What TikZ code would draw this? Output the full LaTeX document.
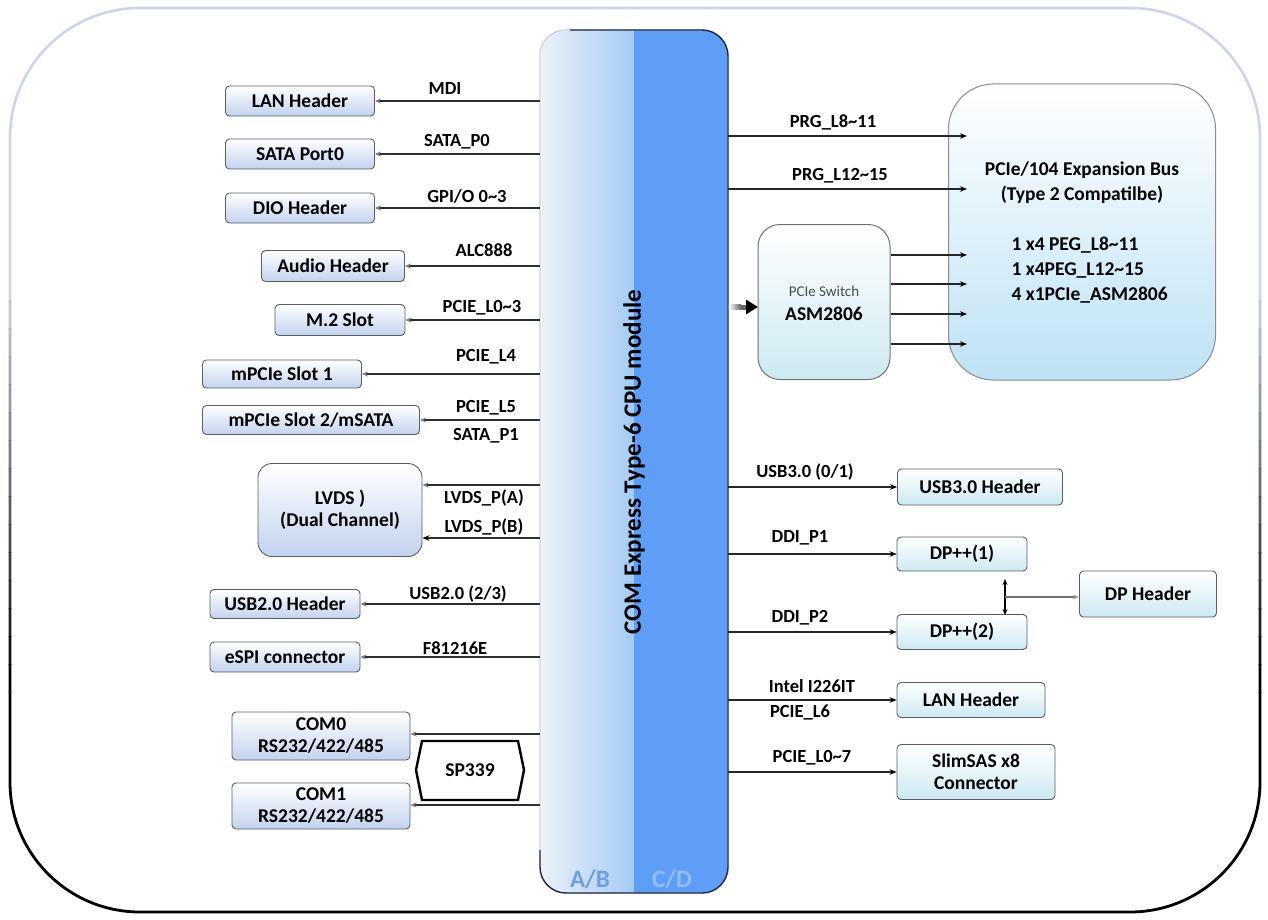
\documentclass[tikz,border=0pt]{standalone}
\usepackage{fontspec}
\setmainfont{Carlito}
\usetikzlibrary{arrows.meta,shadings}
\definecolor{framelight}{HTML}{CDD4EC}
\definecolor{boxedge}{HTML}{5A5E66}
\definecolor{lboxblue}{HTML}{C2D2EE}
\definecolor{rboxcyan}{HTML}{CDE9F2}
\definecolor{bigcyan}{HTML}{BDE2F5}
\definecolor{modl}{HTML}{EEF1F8}
\definecolor{modm}{HTML}{A4CBF6}
\definecolor{modr}{HTML}{5F9EF7}
\definecolor{modedge}{HTML}{1E2B4A}
\definecolor{abblue}{HTML}{6E9EEA}
\definecolor{cdblue}{HTML}{93BDF5}
\definecolor{arrowgray}{HTML}{7A7A7A}
\definecolor{linegray}{HTML}{2E2E2E}
\begin{document}
\begin{tikzpicture}[x=1pt,y=-1pt,
  lbox/.style={draw=boxedge, line width=0.9pt, rounded corners=4pt, top color=white, bottom color=lboxblue,
    font=\bfseries\fontsize{19.5}{22}\selectfont, inner sep=0pt, align=center},
  rbox/.style={draw=boxedge, line width=0.9pt, rounded corners=4pt, top color=white, bottom color=rboxcyan,
    font=\bfseries\fontsize{19.5}{22}\selectfont, inner sep=0pt, align=center},
  lab/.style={font=\bfseries\fontsize{18.5}{21}\selectfont, inner sep=0pt},
  larr/.style={draw=linegray, line width=1.1pt, -{Stealth[length=6pt,width=5pt,color=arrowgray]}},
  rarr/.style={draw=black!85, line width=1.1pt, -{Stealth[length=7pt,width=5.5pt,color=black]}}
]
\useasboundingbox (0,0) rectangle (1268,920);
\fill[white] (0,0) rectangle (1268,920);

% ---------- outer frame ----------
\begin{scope}
  \clip (0,0) rectangle (1268,300);
  \draw[line width=2.6pt, draw=framelight, rounded corners=130pt] (10,8) rectangle (1260,912);
\end{scope}
\foreach \i in {0,...,13}{
  \pgfmathtruncatemacro\pct{(\i+1)*100/14}
  \begin{scope}
    \clip (0,{300+\i*28}) rectangle (1268,{300+(\i+1)*28});
    \draw[line width=2.6pt, draw=black!\pct!framelight, rounded corners=130pt] (10,8) rectangle (1260,912);
  \end{scope}
}
\begin{scope}
  \clip (0,692) rectangle (1268,920);
  \draw[line width=2.8pt, draw=black, rounded corners=130pt] (10,8) rectangle (1260,912);
\end{scope}

% ---------- central module ----------
\node[minimum width=188pt, minimum height=863pt, inner sep=0pt] (mod) at (634,461.5) {};
\begin{scope}
  \clip[rounded corners=26pt] (mod.north west) rectangle (mod.south east);
  \shade[left color=modl, right color=modm] (mod.north west) rectangle (634,893);
  \fill[modr] (634,30) rectangle (mod.south east);
\end{scope}
\draw[draw=black!20, line width=1pt, rounded corners=26pt] (mod.north west) rectangle (mod.south east);
\draw[draw=modedge, line width=1.4pt, rounded corners=26pt]
  (570,30) -- (728,30) -- (728,893) -- (540,893) -- (540,850);
\node[rotate=90, font=\bfseries\fontsize{25}{27}\selectfont] (modtxt) at (634,462) {COM Express Type-6 CPU module};
\node[font=\bfseries\fontsize{25}{27}\selectfont, text=abblue] (ab) at (590,879) {A/B};
\node[font=\bfseries\fontsize{25}{27}\selectfont, text=cdblue] (cd) at (672,879) {C/D};

% ---------- left boxes ----------
\node[lbox, minimum width=149pt, minimum height=30pt] (lan) at (300,101) {LAN Header};
\node[lbox, minimum width=149pt, minimum height=30pt] (sata) at (300,154) {SATA Port0};
\node[lbox, minimum width=149pt, minimum height=30pt] (dio) at (300,208) {DIO Header};
\node[lbox, minimum width=143pt, minimum height=31pt] (audio) at (333,266) {Audio Header};
\node[lbox, minimum width=130pt, minimum height=31pt] (mtwo) at (340,320) {M.2 Slot};
\node[lbox, minimum width=159pt, minimum height=28pt] (mpa) at (282,374) {mPCIe Slot 1};
\node[lbox, minimum width=217pt, minimum height=29pt] (mpb) at (311,420) {mPCIe Slot 2/mSATA};
\node[lbox, rounded corners=14pt, minimum width=164pt, minimum height=93pt] (lvds) at (340,510) {LVDS )\\(Dual Channel)};
\node[lbox, minimum width=150pt, minimum height=29pt] (usbtwo) at (285,604) {USB2.0 Header};
\node[lbox, minimum width=150pt, minimum height=30pt] (espi) at (285,657) {eSPI connector};
\node[lbox, minimum width=178pt, minimum height=48pt] (comz) at (321,736) {COM0\\RS232/422/485};
\node[lbox, minimum width=178pt, minimum height=46pt] (como) at (321,806) {COM1\\RS232/422/485};

% SP339
\draw[line width=2.4pt, fill=white, line join=miter] (422,741) -- (518,741) -- (524,770) -- (518,800) -- (422,800) -- (416,770) -- cycle;
\node[font=\bfseries\fontsize{19.5}{22}\selectfont] (sp) at (470,770) {SP339};

% left connectors
\draw[larr] (mod.west |- lan) -- (lan.east);
\draw[larr] (mod.west |- sata) -- (sata.east);
\draw[larr] (mod.west |- dio) -- (dio.east);
\draw[larr] (mod.west |- audio) -- (audio.east);
\draw[larr] (mod.west |- mtwo) -- (mtwo.east);
\draw[larr] (mod.west |- mpa) -- (mpa.east);
\draw[larr] (mod.west |- mpb) -- (mpb.east);
\coordinate (lvA) at ([yshift=25pt]lvds.east);
\coordinate (lvB) at ([yshift=-28pt]lvds.east);
\draw[larr] (mod.west |- lvA) -- (lvA);
\draw[draw=linegray, line width=1.1pt, -{Stealth[length=7pt,width=5.5pt,color=black]}] (mod.west |- lvB) -- (lvB);
\draw[larr] (mod.west |- usbtwo) -- (usbtwo.east);
\draw[larr] (mod.west |- espi) -- (espi.east);
\coordinate (cz) at ([yshift=2pt]comz.east);
\coordinate (co) at ([yshift=1pt]como.east);
\draw[larr] (mod.west |- cz) -- (cz);
\draw[larr] (mod.west |- co) -- (co);

% left labels
\node[lab] (tmdi) at (445,89) {MDI};
\node[lab] (tsata) at (457,142) {SATA\_P0};
\node[lab] (tgpio) at (467,196) {GPI/O 0\textasciitilde 3};
\node[lab] (talc) at (484,250) {ALC888};
\node[lab] (tmtwo) at (482,308) {PCIE\_L0\textasciitilde 3};
\node[lab] (tlfour) at (486,357) {PCIE\_L4};
\node[lab] (tlfive) at (486,408) {PCIE\_L5};
\node[lab] (tsatab) at (486,436) {SATA\_P1};
\node[lab] (tlva) at (484,498) {LVDS\_P(A)};
\node[lab] (tlvb) at (484,527) {LVDS\_P(B)};
\node[lab] (tusbtwo) at (458,594) {USB2.0 (2/3)};
\node[lab] (tespi) at (455,648) {F81216E};

% ---------- right top ----------
\node[draw=black!45, line width=1pt, rounded corners=45pt, top color=white, bottom color=bigcyan,
  minimum width=267pt, minimum height=296pt, inner sep=0pt] (pcie) at (1082,232) {};
\node[draw=black!55, line width=1pt, rounded corners=22pt, top color=white, bottom color=rboxcyan,
  minimum width=132pt, minimum height=155pt, inner sep=0pt] (sw) at (824,302) {};
\node[font=\fontsize{15}{17}\selectfont, text=black!70] (swa) at (824,291) {PCIe Switch};
\node[font=\bfseries\fontsize{19.5}{22}\selectfont] (swb) at (824,314) {ASM2806};

\node[font=\bfseries\fontsize{19.5}{22}\selectfont] (pa) at (1082,170) {PCIe/104 Expansion Bus};
\node[font=\bfseries\fontsize{19.5}{22}\selectfont] (pb) at (1082,195) {(Type 2 Compatilbe)};
\node[font=\bfseries\fontsize{19.5}{22}\selectfont, anchor=west] (pc) at (1008,245) {1 x4 PEG\_L8\textasciitilde 11};
\node[font=\bfseries\fontsize{19.5}{22}\selectfont, anchor=west] (pd) at (1008,270) {1 x4PEG\_L12\textasciitilde 15};
\node[font=\bfseries\fontsize{19.5}{22}\selectfont, anchor=west] (pe) at (1008,295) {4 x1PCIe\_ASM2806};

\coordinate (ga) at (967,136);
\coordinate (gb) at (967,189);
\draw[rarr] (mod.east |- ga) -- (ga);
\draw[rarr] (mod.east |- gb) -- (gb);
\node[lab] (tga) at (833,122) {PRG\_L8\textasciitilde 11};
\node[lab] (tgb) at (840,176) {PRG\_L12\textasciitilde 15};

\coordinate (swin) at (758,307);
\draw[line width=5pt, draw=black!60, -{Triangle[length=12pt,width=14pt,color=black]}] (mod.east |- swin) -- (swin);
\shade[left color=white, right color=black!60] (728.8,304.5) rectangle (741,309.5);

\coordinate (ea) at (967,255);
\coordinate (eb) at (967,284);
\coordinate (ec) at (967,314);
\coordinate (ed) at (967,344);
\draw[rarr] (sw.east |- ea) -- (ea);
\draw[rarr] (sw.east |- eb) -- (eb);
\draw[rarr] (sw.east |- ec) -- (ec);
\draw[rarr] (sw.east |- ed) -- (ed);

% ---------- right bottom ----------
\node[rbox, minimum width=165pt, minimum height=36pt] (usbthree) at (980,487) {USB3.0 Header};
\node[rbox, minimum width=130pt, minimum height=34pt] (dpa) at (962,554) {DP++(1)};
\node[rbox, minimum width=130pt, minimum height=35pt] (dpb) at (962,632) {DP++(2)};
\node[rbox, minimum width=137pt, minimum height=46pt] (dph) at (1148,594) {DP Header};
\node[rbox, minimum width=148pt, minimum height=35pt] (lanr) at (971,700) {LAN Header};
\node[rbox, minimum width=158pt, minimum height=55pt] (slim) at (976,772) {SlimSAS x8\\Connector};

\draw[rarr] (mod.east |- usbthree) -- (usbthree.west);
\draw[rarr] (mod.east |- dpa) -- (dpa.west);
\draw[rarr] (mod.east |- dpb) -- (dpb.west);
\draw[rarr] (mod.east |- lanr) -- (lanr.west);
\draw[rarr] (mod.east |- slim) -- (slim.west);

\coordinate (va) at (1005,579);
\coordinate (vb) at (1005,615);
\coordinate (vm) at (1005,597);
\draw[line width=1.3pt, {Stealth[length=6pt,width=5pt]}-{Stealth[length=6pt,width=5pt]}] (va) -- (vb);
\draw[line width=1.3pt, draw=black!55, -{Stealth[length=6pt,width=5pt,color=black!35]}] (vm) -- (dph.west |- vm);

\node[lab] (tusbthree) at (805,472) {USB3.0 (0/1)};
\node[lab] (tddia) at (800,538) {DDI\_P1};
\node[lab] (tddib) at (800,618) {DDI\_P2};
\node[lab] (tintel) at (812,686) {Intel I226IT};
\node[lab] (tlsix) at (800,712) {PCIE\_L6};
\node[lab] (tlseven) at (812,758) {PCIE\_L0\textasciitilde 7};
\end{tikzpicture}
\end{document}
